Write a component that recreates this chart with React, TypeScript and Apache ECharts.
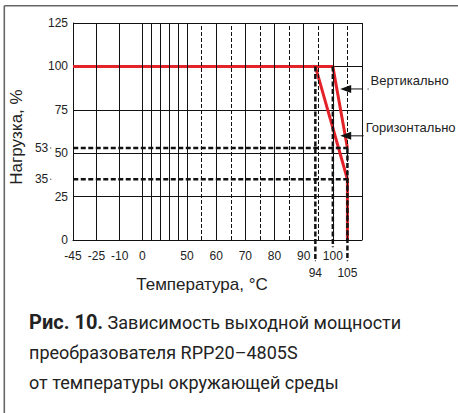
import React, { useEffect, useRef } from "react";
import * as echarts from "echarts";

// Non-linear temperature axis of the original drawing: knots temperature -> axis units
const xScaleTemps = [-45, -25, -10, 0, 50, 110];
const xScaleUnits = [0, 23.4, 46.7, 69.4, 114, 288.9];

const xLabelTemps = [-45, -25, -10, 0, 50, 60, 70, 80, 90, 100];
const xSolidGridTemps = [-25, -10, 0, 10, 20, 30, 40, 50, 60, 70, 80, 90, 100, 110];
const xDashedGridTemps = [55, 65, 75, 85, 95, 105];

// Derating curves
const verticalTemps = [-45, 100, 105];
const verticalLoad = [100, 100, 53];
const horizontalTemps = [94, 105, 105];
const horizontalLoad = [100, 35, 0];

// Reference (thick dashed) lines
const refLoads = [53, 35];
const refLoadFrom = -64;
const refLoadTo = 105;
const refTemps = [94, 100, 105];
const refTempTop = [100, 100, 53];
const refTempBottom = [-12, -4, -12];
const refTempLabels = ["94", "", "105"];

// Annotation arrows
const arrowNames = ["Вертикально", "Горизонтально"];
const arrowLoads = [87, 60];
const arrowTipTemps = [104.4, 104.4];
const arrowTailTemps = [112.1, 110.4];

const toPos = (t: number) => {
  const n = xScaleTemps.length;
  let i = 0;
  if (t <= xScaleTemps[0]) i = 0;
  else if (t >= xScaleTemps[n - 1]) i = n - 2;
  else {
    while (i < n - 2 && t > xScaleTemps[i + 1]) i++;
  }
  const t0 = xScaleTemps[i], t1 = xScaleTemps[i + 1];
  const u0 = xScaleUnits[i], u1 = xScaleUnits[i + 1];
  return u0 + ((t - t0) / (t1 - t0)) * (u1 - u0);
};
const fromPos = (u: number) => {
  const n = xScaleUnits.length;
  let i = 0;
  if (u <= xScaleUnits[0]) i = 0;
  else if (u >= xScaleUnits[n - 1]) i = n - 2;
  else {
    while (i < n - 2 && u > xScaleUnits[i + 1]) i++;
  }
  const t0 = xScaleTemps[i], t1 = xScaleTemps[i + 1];
  const u0 = xScaleUnits[i], u1 = xScaleUnits[i + 1];
  return t0 + ((u - u0) / (u1 - u0)) * (t1 - t0);
};

const BLACK = "#111";
const TEXT = "#222";
const RED = "#e32229";
const AX_FONT = "Liberation Sans, Arial, sans-serif";

export default function App() {
  const ref = useRef<HTMLDivElement>(null);
  useEffect(() => {
    document.body.style.margin = "0";
    if (!ref.current) return;
    const chart = echarts.init(ref.current, undefined, { renderer: "svg" });

    const gridLines = [
      ...xSolidGridTemps.map((t) => ({
        xAxis: toPos(t),
        lineStyle: { type: "solid", color: BLACK, width: 1 },
      })),
      ...xDashedGridTemps.map((t) => ({
        xAxis: toPos(t),
        lineStyle: { type: [4, 2], color: BLACK, width: 1 },
      })),
    ];

    const tinyLabelled = (value: number[], text: string, position: string, extra: any = {}) => ({
      value,
      symbol: "rect",
      symbolSize: [1, 1],
      label: {
        show: text !== "",
        formatter: text,
        position,
        fontSize: 12,
        color: TEXT,
        fontFamily: AX_FONT,
        ...extra,
      },
    });

    const refLoadSeries = refLoads.map((l) => ({
      type: "line",
      clip: false,
      z: 4,
      silent: true,
      symbol: "none",
      lineStyle: { color: BLACK, width: 2.5, type: [5, 2.5] },
      itemStyle: { color: BLACK },
      data: [
        tinyLabelled([toPos(refLoadFrom), l], String(l), "left", { distance: 2 }),
        { value: [toPos(refLoadTo), l], symbol: "none" },
      ],
    }));

    const refTempSeries = refTemps.map((t, i) => ({
      type: "line",
      clip: false,
      z: 4,
      silent: true,
      symbol: "none",
      lineStyle: { color: BLACK, width: 2.5, type: [5, 2.5] },
      itemStyle: { color: BLACK },
      data: [
        { value: [toPos(t), refTempTop[i]], symbol: "none" },
        tinyLabelled([toPos(t), refTempBottom[i]], refTempLabels[i], "bottom", { distance: 6 }),
      ],
    }));

    const arrowSeries = arrowNames.map((name, i) => ({
      type: "line",
      clip: false,
      z: 5,
      silent: true,
      lineStyle: { color: BLACK, width: 1 },
      itemStyle: { color: BLACK },
      data: [
        {
          value: [toPos(arrowTipTemps[i]), arrowLoads[i]],
          symbol: "triangle",
          symbolSize: [8, 11],
          symbolRotate: 90,
        },
        tinyLabelled([toPos(arrowTailTemps[i]), arrowLoads[i]], name, "right", {
          distance: 2,
          offset: [0, -8],
          fontSize: 13,
        }),
      ],
    }));

    const option: any = {
      animation: false,
      title: {
        left: 29,
        top: 307,
        padding: 0,
        text:
          "{b|Рис. 10.} Зависимость выходной мощности\nпреобразователя RPP20–4805S\nот температуры окружающей среды",
        textStyle: {
          fontFamily: "Roboto",
          fontSize: 18,
          fontWeight: "normal",
          color: TEXT,
          lineHeight: 30,
          rich: {
            b: { fontFamily: "Roboto", fontSize: 20, fontWeight: "bold", color: TEXT, lineHeight: 30 },
          },
        },
      },
      graphic: [
        { type: "line", silent: true, shape: { x1: 4.3, y1: 5.8, x2: 458, y2: 5.8 }, style: { stroke: "#666", lineWidth: 1.6 } },
        { type: "line", silent: true, shape: { x1: 4.3, y1: 5.8, x2: 4.3, y2: 413 }, style: { stroke: "#666", lineWidth: 1.6 } },
      ],
      grid: { left: 73, top: 23, width: 289, height: 217, show: false },
      xAxis: {
        type: "value",
        min: 0,
        max: xScaleUnits[xScaleUnits.length - 1],
        axisLine: { show: true, lineStyle: { color: BLACK, width: 1 } },
        axisTick: { show: false },
        splitLine: { show: false },
        axisLabel: {
          customValues: xLabelTemps.map(toPos),
          formatter: (v: number) => String(Math.round(fromPos(v))),
          margin: 10,
          fontSize: 12,
          color: TEXT,
          fontFamily: AX_FONT,
        },
        name: "Температура, °C",
        nameLocation: "middle",
        nameGap: 36,
        nameTextStyle: { fontSize: 17, color: TEXT, fontFamily: AX_FONT, padding: [0, 31, 0, 0] },
      },
      yAxis: {
        type: "value",
        min: 0,
        max: 125,
        interval: 25,
        axisLine: { show: true, lineStyle: { color: BLACK, width: 1 } },
        axisTick: { show: false },
        splitLine: { show: true, lineStyle: { color: BLACK, width: 1 } },
        axisLabel: { margin: 5, fontSize: 12, color: TEXT, fontFamily: AX_FONT },
        name: "Нагрузка, %",
        nameLocation: "middle",
        nameGap: 48,
        nameTextStyle: { fontSize: 17, color: TEXT, fontFamily: AX_FONT, padding: [0, 11, 0, 0] },
      },
      series: [
        {
          type: "line",
          name: "grid",
          data: [],
          silent: true,
          z: 1,
          markLine: { silent: true, symbol: "none", label: { show: false }, animation: false, data: gridLines },
        },
        {
          type: "line",
          name: "Вертикально",
          z: 3,
          symbol: "none",
          lineStyle: { color: RED, width: 3 },
          data: verticalTemps.map((t, i) => [toPos(t), verticalLoad[i]]),
        },
        {
          type: "line",
          name: "Горизонтально",
          z: 3,
          symbol: "none",
          lineStyle: { color: RED, width: 3 },
          data: horizontalTemps.map((t, i) => [toPos(t), horizontalLoad[i]]),
        },
        ...refLoadSeries,
        ...refTempSeries,
        ...arrowSeries,
      ],
    };
    chart.setOption(option);
    return () => chart.dispose();
  }, []);
  return <div ref={ref} style={{ width: 458, height: 413 }} />;
}
